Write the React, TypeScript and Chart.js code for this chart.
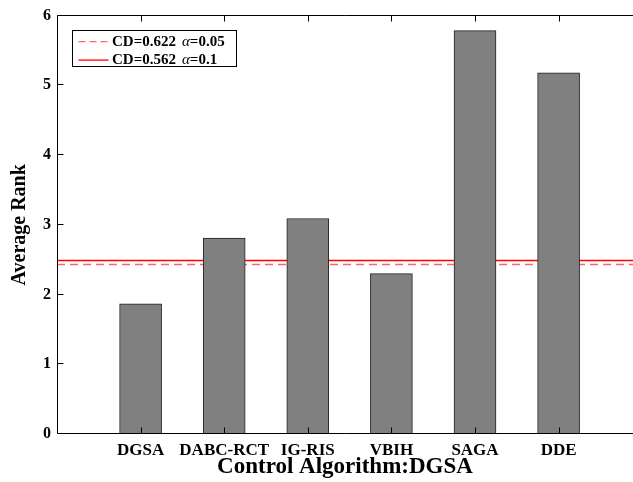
import React, { useEffect, useRef } from "react";
import { Chart, registerables } from "chart.js";

Chart.register(...registerables);

// ---------- data ----------
const categories = ["DGSA", "DABC-RCT", "IG-RIS", "VBIH", "SAGA", "DDE"];
const averageRanks = [1.865, 2.81, 3.09, 2.3, 5.785, 5.18];
const cdLevelDashed = 2.43;
const cdLevelSolid = 2.487;
const legendCd = ["CD=0.622", "CD=0.562"];
const legendAlpha = ["=0.05", "=0.1"];
const yTickValues = [0, 1, 2, 3, 4, 5, 6];
const xTitle = "Control Algorithm:DGSA";
const yTitle = "Average Rank";
const xLineStart = 0;
const xLineEnd = 7;
const xViewMin = 0;
const xViewMax = 6.89; // the original figure is cropped on the right

const FONT = "'Liberation Serif', 'Times New Roman', serif";

const framePlugin = {
  id: "frameTicks",
  afterDatasetsDraw(chart: any) {
    const { ctx, chartArea: a, scales } = chart;
    const L = Math.round(a.left) + 0.5;
    const R = a.right + 2;
    const T = Math.round(a.top) - 0.5;
    const B = Math.round(a.bottom) - 0.5;
    ctx.save();
    ctx.strokeStyle = "#000";
    ctx.lineWidth = 1;
    ctx.beginPath();
    ctx.moveTo(R, T);
    ctx.lineTo(L, T);
    ctx.lineTo(L, B);
    ctx.lineTo(R, B);
    ctx.stroke();
    const tl = 6;
    ctx.beginPath();
    yTickValues.forEach((v) => {
      const y = Math.round(scales.y.getPixelForValue(v)) - 0.5;
      ctx.moveTo(L, y);
      ctx.lineTo(L + tl, y);
    });
    categories.forEach((_, i) => {
      const x = Math.round(scales.x.getPixelForValue(i + 1)) + 0.5;
      ctx.moveTo(x, T);
      ctx.lineTo(x, T + tl);
      ctx.moveTo(x, B);
      ctx.lineTo(x, B - tl);
    });
    ctx.stroke();

    // legend box
    const bx = Math.round(a.left) + 15.5;
    const by = Math.round(a.top) + 14.5;
    const bw = 164;
    const bh = 36;
    ctx.fillStyle = "#fff";
    ctx.fillRect(bx, by, bw, bh);
    ctx.strokeStyle = "#000";
    ctx.strokeRect(bx, by, bw, bh);
    const rows = [by + 11.2, by + 29.6];
    const styles = [
      { color: "rgba(255,0,0,0.6)", dash: [7, 4] },
      { color: "#ff0000", dash: [] as number[] },
    ];
    rows.forEach((ry, i) => {
      ctx.beginPath();
      ctx.setLineDash(styles[i].dash);
      ctx.strokeStyle = styles[i].color;
      ctx.lineWidth = 1.3;
      ctx.moveTo(bx + 6, ry);
      ctx.lineTo(bx + 36, ry);
      ctx.stroke();
      ctx.setLineDash([]);
      ctx.fillStyle = "#000";
      ctx.textBaseline = "middle";
      ctx.textAlign = "left";
      let tx = bx + 39.5;
      ctx.font = `bold 15px ${FONT}`;
      ctx.fillText(legendCd[i], tx, ry);
      tx += ctx.measureText(legendCd[i]).width + 6;
      ctx.font = `italic 15px ${FONT}`;
      ctx.fillText("α", tx, ry);
      tx += ctx.measureText("α").width;
      ctx.font = `bold 15px ${FONT}`;
      ctx.fillText(legendAlpha[i], tx, ry);
    });
    ctx.restore();
  },
};

export default function App() {
  const ref = useRef<HTMLCanvasElement | null>(null);
  useEffect(() => {
    if (!ref.current) return;
    const chart = new Chart(ref.current, {
      type: "bar",
      data: {
        datasets: [
          {
            type: "bar",
            data: categories.map((c, i) => ({ x: i + 1, y: averageRanks[i] })),
            backgroundColor: "#808080",
            borderColor: "#222",
            borderWidth: 1,
            borderSkipped: false,
            barThickness: 42,
            order: 0,
          } as any,
          {
            type: "line",
            data: [
              { x: xLineStart, y: cdLevelDashed },
              { x: xLineEnd, y: cdLevelDashed },
            ],
            borderColor: "rgba(255,0,0,0.6)",
            borderDash: [8, 5],
            borderWidth: 1.4,
            pointRadius: 0,
            order: 2,
          } as any,
          {
            type: "line",
            data: [
              { x: xLineStart, y: cdLevelSolid },
              { x: xLineEnd, y: cdLevelSolid },
            ],
            borderColor: "#ff0000",
            borderWidth: 1.4,
            pointRadius: 0,
            order: 1,
          } as any,
        ],
      },
      options: {
        animation: false,
        responsive: false,
        layout: { padding: { top: 15, left: 0, right: 0, bottom: 0 } },
        plugins: { legend: { display: false }, tooltip: { enabled: false } },
        scales: {
          x: {
            type: "linear",
            offset: false,
            min: xViewMin,
            max: xViewMax,
            grid: { display: false, drawTicks: false, offset: false },
            border: { display: false },
            afterBuildTicks: (s: any) => {
              s.ticks = categories.map((_, i) => ({ value: i + 1 }));
            },
            afterFit: (s: any) => {
              s.height = 48;
            },
            ticks: {
              autoSkip: false,
              maxRotation: 0,
              minRotation: 0,
              padding: 6,
              color: "#000",
              font: { family: FONT, size: 17, weight: "bold" },
              callback: (v: any) => categories[Math.round(Number(v)) - 1] ?? "",
            },
            title: {
              display: true,
              text: xTitle,
              color: "#000",
              font: { family: FONT, size: 23, weight: "bold" },
              padding: { top: 0, bottom: 1 },
            },
          } as any,
          y: {
            min: 0,
            max: 6,
            grid: { display: false, drawTicks: false },
            border: { display: false },
            afterBuildTicks: (s: any) => {
              s.ticks = yTickValues.map((v) => ({ value: v }));
            },
            afterFit: (s: any) => {
              s.width = 57;
            },
            ticks: {
              padding: 6,
              color: "#000",
              font: { family: FONT, size: 16, weight: "bold" },
            },
            title: {
              display: true,
              text: yTitle,
              color: "#000",
              font: { family: FONT, size: 20, weight: "bold" },
              padding: { top: 8, bottom: 0 },
            },
          } as any,
        },
      } as any,
      plugins: [framePlugin],
    });
    return () => chart.destroy();
  }, []);

  return (
    <div
      style={{
        position: "fixed",
        left: 0,
        top: 0,
        width: 633,
        height: 482,
        overflow: "hidden",
        background: "#fff",
      }}
    >
      <canvas ref={ref} width={633} height={482} style={{ display: "block" }} />
    </div>
  );
}
